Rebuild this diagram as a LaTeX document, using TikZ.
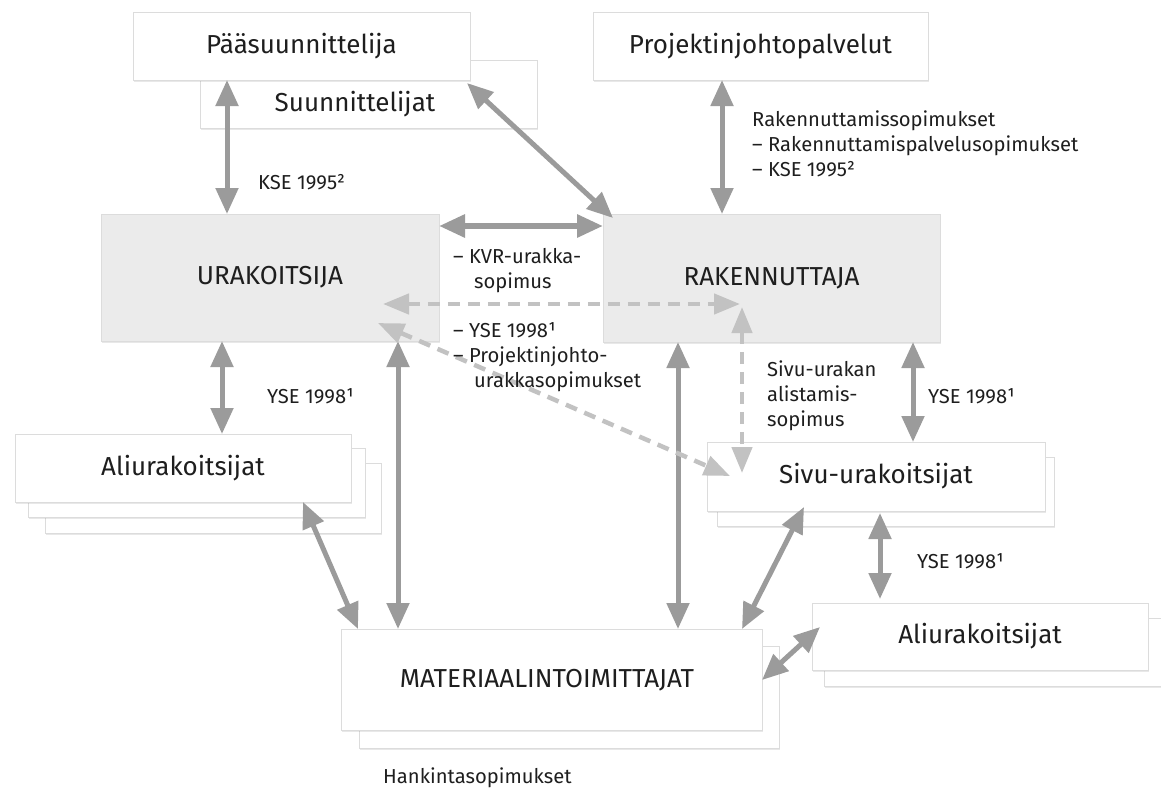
\documentclass[tikz,border=0pt]{standalone}
\usepackage{fontspec}
\setmainfont{Fira Sans}
\usetikzlibrary{arrows.meta,shadows}
\definecolor{arr}{HTML}{9B9B9B}
\definecolor{darr}{HTML}{C2C2C2}
\definecolor{gbox}{HTML}{EBEBEB}
\definecolor{bord}{HTML}{DCDCDC}
\definecolor{txt}{HTML}{1E1E1E}
\begin{document}
\begin{tikzpicture}[x=1pt,y=-1pt,
  boxbase/.style={rectangle, outer sep=0pt, inner sep=0pt, draw=bord, line width=0.8pt,
    drop shadow={shadow xshift=1.2pt, shadow yshift=-1.5pt, opacity=0.18}},
  wbox/.style={boxbase, fill=white},
  gbx/.style={boxbase, fill=gbox},
  boxtxt/.style={font=\fontsize{26}{31}\selectfont, text=txt, inner sep=0pt},
  lbl/.style={font=\fontsize{20.2}{25}\selectfont, text=txt, align=left, inner sep=0pt, anchor=west},
  solidarr/.style={draw=arr, line width=5pt, {Triangle[length=26pt,width=22pt]}-{Triangle[length=26pt,width=22pt]}},
  dasharr/.style={draw=darr, line width=4.5pt, dash pattern=on 12pt off 8pt,
    {Triangle[length=26pt,width=20pt,fill=darr]}-{Triangle[length=26pt,width=20pt,fill=darr]}}
]
\useasboundingbox (0,0) rectangle (1161,790);

% Top boxes
\node[wbox, minimum width=337pt, minimum height=68pt] (suun) at (368.5,94) {};
\node[boxtxt] (suunT) at (355,104) {Suunnittelijat};
\node[wbox, boxtxt, minimum width=337pt, minimum height=68pt] (paa) at (301.5,46) {Pääsuunnittelija};
\node[wbox, boxtxt, minimum width=335pt, minimum height=68pt] (proj) at (760.5,46) {Projektinjohtopalvelut};

% Main boxes
\node[gbx, boxtxt, minimum width=338pt, minimum height=127pt] (urak) at (270,277.5) {URAKOITSIJA};
\node[gbx, boxtxt, minimum width=337pt, minimum height=128pt] (rak) at (771.5,278) {RAKENNUTTAJA};

% Left Aliurakoitsijat stack
\node[wbox, minimum width=336pt, minimum height=70pt] (ali1c) at (213,498) {};
\node[wbox, minimum width=337pt, minimum height=69pt] (ali1b) at (196.5,482.5) {};
\node[wbox, boxtxt, minimum width=336pt, minimum height=68pt] (ali1) at (183,468) {Aliurakoitsijat};

% Sivu-urakoitsijat stack
\node[wbox, minimum width=337pt, minimum height=69pt] (sivub) at (885.5,491.5) {};
\node[wbox, boxtxt, minimum width=338pt, minimum height=69pt] (sivu) at (876,476.5) {Sivu-urakoitsijat};

% Right Aliurakoitsijat stack
\node[wbox, minimum width=345pt, minimum height=68pt] (ali2b) at (996.5,652) {};
\node[wbox, boxtxt, minimum width=336pt, minimum height=67pt] (ali2) at (980,636.5) {Aliurakoitsijat};

% Materiaalintoimittajat stack
\node[wbox, minimum width=420pt, minimum height=102pt] (matb) at (569,697) {};
\node[wbox, minimum width=421pt, minimum height=101pt] (mat) at (551.5,679.5) {};
\node[boxtxt] (matT) at (547,680) {MATERIAALINTOIMITTAJAT};

% Solid arrows
\draw[solidarr] ([xshift=94pt]paa.south west) -- ([xshift=126pt]urak.north west);
\draw[solidarr] ([xshift=-3pt,yshift=-3pt]paa.south east) -- ([xshift=10pt,yshift=-4pt]rak.north west);
\draw[solidarr] ([xshift=129pt]proj.south west) -- ([xshift=119pt]rak.north west);
\draw[solidarr, line width=6pt] ([yshift=51.5pt]urak.east) -- ([yshift=52pt]rak.west);
\draw[solidarr] ([xshift=121pt]urak.south west) -- ([xshift=207pt]ali1.north west);
\draw[solidarr] ([xshift=297pt]urak.south west) -- ([xshift=57pt]mat.north west);
\draw[solidarr] ([xshift=75pt]rak.south west) -- ([xshift=337pt]mat.north west);
\draw[solidarr] ([xshift=310pt]rak.south west) -- ([xshift=206pt]sivu.north west);
\draw[solidarr] ([xshift=-48pt]ali1.south east) -- ([xshift=17pt]mat.north west);
\draw[solidarr] ([xshift=97pt,yshift=4pt]sivu.south west) -- ([xshift=-20pt]mat.north east);
\draw[solidarr] ([xshift=173pt,yshift=-2pt]sivu.south west) -- ([xshift=68pt,yshift=4pt]ali2.north west);
\draw[solidarr] ([yshift=-0.5pt]mat.east) -- ([xshift=8pt,yshift=9.5pt]ali2.west);

% Dashed arrows
\draw[dasharr] ([xshift=-56pt,yshift=-26.5pt]urak.east) -- ([xshift=137pt,yshift=-26pt]rak.west);
\draw[dasharr] ([xshift=-61pt,yshift=-45.5pt]urak.east) -- ([xshift=23pt,yshift=0.5pt]sivu.west);
\draw[dasharr] ([xshift=139pt,yshift=-29pt]rak.west) -- ([xshift=35pt,yshift=-31pt]sivu.north west);

% Labels
\node[lbl] (kse1) at (258,182) {KSE 1995²};
\node[lbl] (rsop) at (752,144) {Rakennuttamissopimukset\\– Rakennuttamispalvelusopimukset\\– KSE 1995²};
\node[lbl] (kvr) at (453,271) {– KVR-urakka-\\\hspace*{21pt}sopimus};
\node[lbl] (yse0) at (453,357) {– YSE 1998¹\\– Projektinjohto-\\\hspace*{21pt}urakkasopimukset};
\node[lbl] (yse1) at (267,396) {YSE 1998¹};
\node[lbl] (sivul) at (767,396) {Sivu-urakan\\alistamis-\\sopimus};
\node[lbl] (yse2) at (928,396) {YSE 1998¹};
\node[lbl] (yse3) at (917,561) {YSE 1998¹};
\node[lbl] (hank) at (383,778) {Hankintasopimukset};
\end{tikzpicture}
\end{document}
